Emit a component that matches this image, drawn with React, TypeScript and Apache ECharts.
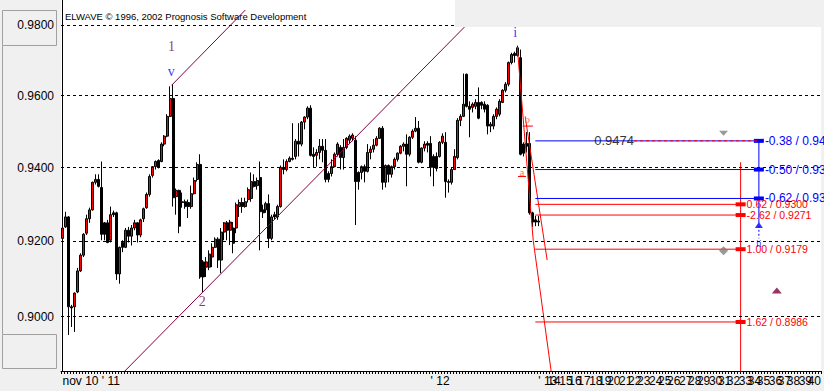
import React, { useEffect, useRef } from "react";
import * as echarts from "echarts";

// [open, close, low, high]
const candles: number[][] = [
  [0.9208, 0.9236, 0.9203, 0.9241], [0.9239, 0.9266, 0.9236, 0.9280], [0.9266, 0.9026, 0.8952, 0.9268], [0.9026, 0.9023, 0.8973, 0.9031],
  [0.9026, 0.9062, 0.8960, 0.9064], [0.9065, 0.9121, 0.9062, 0.9129], [0.9121, 0.9163, 0.9118, 0.9168], [0.9163, 0.9219, 0.9158, 0.9222],
  [0.9222, 0.9261, 0.9217, 0.9272], [0.9261, 0.9285, 0.9250, 0.9291], [0.9285, 0.9360, 0.9283, 0.9362], [0.9360, 0.9368, 0.9354, 0.9382],
  [0.9368, 0.9349, 0.9346, 0.9382], [0.9346, 0.9219, 0.9203, 0.9417], [0.9250, 0.9219, 0.9203, 0.9252], [0.9250, 0.9197, 0.9195, 0.9258],
  [0.9203, 0.9272, 0.9197, 0.9294], [0.9277, 0.9272, 0.9266, 0.9283], [0.9277, 0.9113, 0.9097, 0.9280], [0.9113, 0.9184, 0.9087, 0.9186],
  [0.9197, 0.9184, 0.9171, 0.9203], [0.9184, 0.9230, 0.9182, 0.9236], [0.9230, 0.9214, 0.9197, 0.9239], [0.9214, 0.9236, 0.9189, 0.9244],
  [0.9236, 0.9250, 0.9230, 0.9258], [0.9250, 0.9217, 0.9197, 0.9252], [0.9217, 0.9258, 0.9211, 0.9261], [0.9261, 0.9288, 0.9252, 0.9291],
  [0.9291, 0.9327, 0.9288, 0.9332], [0.9327, 0.9376, 0.9321, 0.9382], [0.9379, 0.9403, 0.9373, 0.9404], [0.9403, 0.9417, 0.9395, 0.9420],
  [0.9420, 0.9401, 0.9398, 0.9423], [0.9417, 0.9465, 0.9415, 0.9470], [0.9465, 0.9487, 0.9459, 0.9490], [0.9487, 0.9542, 0.9484, 0.9548],
  [0.9542, 0.9592, 0.9540, 0.9626], [0.9592, 0.9318, 0.9294, 0.9632], [0.9321, 0.9338, 0.9272, 0.9343], [0.9338, 0.9241, 0.9222, 0.9340],
  [0.9307, 0.9305, 0.9291, 0.9332], [0.9307, 0.9294, 0.9288, 0.9313], [0.9305, 0.9294, 0.9263, 0.9313], [0.9294, 0.9329, 0.9288, 0.9351],
  [0.9329, 0.9365, 0.9327, 0.9373], [0.9368, 0.9409, 0.9362, 0.9415], [0.9409, 0.9105, 0.9100, 0.9437], [0.9145, 0.9105, 0.9065, 0.9150],
  [0.9131, 0.9145, 0.9105, 0.9158], [0.9131, 0.9166, 0.9123, 0.9176], [0.9158, 0.9184, 0.9131, 0.9195], [0.9184, 0.9206, 0.9182, 0.9211],
  [0.9206, 0.9150, 0.9129, 0.9211], [0.9150, 0.9225, 0.9115, 0.9236], [0.9225, 0.9250, 0.9203, 0.9252], [0.9250, 0.9230, 0.9203, 0.9255],
  [0.9230, 0.9252, 0.9190, 0.9258], [0.9236, 0.9195, 0.9168, 0.9252], [0.9236, 0.9299, 0.9222, 0.9305], [0.9294, 0.9305, 0.9266, 0.9313],
  [0.9305, 0.9294, 0.9277, 0.9318], [0.9294, 0.9307, 0.9291, 0.9318], [0.9313, 0.9340, 0.9305, 0.9346], [0.9316, 0.9362, 0.9307, 0.9387],
  [0.9362, 0.9349, 0.9346, 0.9382], [0.9351, 0.9365, 0.9340, 0.9373], [0.9373, 0.9280, 0.9176, 0.9417], [0.9285, 0.9277, 0.9263, 0.9299],
  [0.9285, 0.9302, 0.9277, 0.9307], [0.9302, 0.9208, 0.9182, 0.9327], [0.9208, 0.9266, 0.9203, 0.9272], [0.9272, 0.9266, 0.9258, 0.9280],
  [0.9266, 0.9294, 0.9258, 0.9299], [0.9294, 0.9401, 0.9291, 0.9406], [0.9401, 0.9395, 0.9382, 0.9423], [0.9395, 0.9417, 0.9390, 0.9423],
  [0.9417, 0.9426, 0.9415, 0.9431], [0.9426, 0.9423, 0.9420, 0.9523], [0.9431, 0.9473, 0.9423, 0.9479], [0.9473, 0.9465, 0.9431, 0.9523],
  [0.9465, 0.9526, 0.9459, 0.9529], [0.9526, 0.9540, 0.9506, 0.9542], [0.9540, 0.9565, 0.9534, 0.9570], [0.9565, 0.9434, 0.9431, 0.9573],
  [0.9437, 0.9431, 0.9401, 0.9456], [0.9434, 0.9442, 0.9403, 0.9451], [0.9442, 0.9459, 0.9423, 0.9479], [0.9459, 0.9448, 0.9415, 0.9479],
  [0.9448, 0.9368, 0.9360, 0.9479], [0.9384, 0.9368, 0.9360, 0.9390], [0.9384, 0.9403, 0.9376, 0.9423], [0.9403, 0.9437, 0.9401, 0.9442],
  [0.9437, 0.9465, 0.9431, 0.9470], [0.9456, 0.9428, 0.9395, 0.9462], [0.9428, 0.9456, 0.9395, 0.9479], [0.9456, 0.9481, 0.9451, 0.9484],
  [0.9476, 0.9487, 0.9465, 0.9492], [0.9481, 0.9490, 0.9473, 0.9495], [0.9476, 0.9362, 0.9244, 0.9487], [0.9387, 0.9362, 0.9340, 0.9390],
  [0.9387, 0.9403, 0.9368, 0.9406], [0.9403, 0.9390, 0.9360, 0.9409], [0.9390, 0.9442, 0.9387, 0.9465], [0.9442, 0.9451, 0.9423, 0.9459],
  [0.9451, 0.9462, 0.9442, 0.9479], [0.9462, 0.9481, 0.9459, 0.9487], [0.9481, 0.9509, 0.9479, 0.9512], [0.9509, 0.9360, 0.9340, 0.9515],
  [0.9360, 0.9406, 0.9346, 0.9409], [0.9406, 0.9382, 0.9360, 0.9409], [0.9382, 0.9403, 0.9373, 0.9406], [0.9403, 0.9423, 0.9395, 0.9428],
  [0.9423, 0.9440, 0.9417, 0.9442], [0.9440, 0.9459, 0.9437, 0.9462], [0.9459, 0.9465, 0.9445, 0.9470], [0.9465, 0.9437, 0.9349, 0.9492],
  [0.9437, 0.9484, 0.9431, 0.9487], [0.9484, 0.9501, 0.9479, 0.9506], [0.9501, 0.9509, 0.9498, 0.9540], [0.9509, 0.9415, 0.9412, 0.9529],
  [0.9415, 0.9454, 0.9412, 0.9456], [0.9454, 0.9465, 0.9445, 0.9473], [0.9467, 0.9462, 0.9442, 0.9473], [0.9467, 0.9401, 0.9376, 0.9487],
  [0.9431, 0.9401, 0.9349, 0.9437], [0.9431, 0.9398, 0.9390, 0.9442], [0.9431, 0.9470, 0.9428, 0.9473], [0.9470, 0.9487, 0.9465, 0.9495],
  [0.9470, 0.9362, 0.9318, 0.9498], [0.9362, 0.9360, 0.9332, 0.9368], [0.9360, 0.9395, 0.9354, 0.9401], [0.9395, 0.9431, 0.9395, 0.9451],
  [0.9428, 0.9531, 0.9423, 0.9537], [0.9531, 0.9542, 0.9515, 0.9548], [0.9542, 0.9576, 0.9540, 0.9662], [0.9660, 0.9570, 0.9567, 0.9662],
  [0.9570, 0.9562, 0.9484, 0.9584], [0.9567, 0.9576, 0.9553, 0.9581], [0.9570, 0.9581, 0.9562, 0.9590], [0.9581, 0.9537, 0.9534, 0.9623],
  [0.9581, 0.9573, 0.9562, 0.9584], [0.9576, 0.9562, 0.9553, 0.9584], [0.9573, 0.9515, 0.9492, 0.9576], [0.9515, 0.9520, 0.9498, 0.9526],
  [0.9515, 0.9542, 0.9506, 0.9548], [0.9542, 0.9562, 0.9534, 0.9567], [0.9548, 0.9584, 0.9542, 0.9590], [0.9581, 0.9615, 0.9579, 0.9618],
  [0.9615, 0.9632, 0.9609, 0.9638], [0.9632, 0.9693, 0.9626, 0.9696], [0.9693, 0.9716, 0.9688, 0.9721], [0.9719, 0.9713, 0.9693, 0.9724],
  [0.9713, 0.9735, 0.9710, 0.9741], [0.9707, 0.9437, 0.9434, 0.9730], [0.9465, 0.9440, 0.9431, 0.9470], [0.9467, 0.9459, 0.9442, 0.9498],
  [0.9467, 0.9277, 0.9272, 0.9498], [0.9277, 0.9252, 0.9239, 0.9280], [0.9258, 0.9252, 0.9241, 0.9269], [0.9252, 0.9255, 0.9241, 0.9269],
];

// time axis (bar slots, including the projected future)
const barSlots = 254;
const dateTicks: [number, string][] = [[0, "nov 10 ' 11"], [123, "' 12"]];
const futureTickStart = 159;
const futureTickStep = 3.33;
const futureTicks = ["' 13", "14", "15", "16", "17", "18", "19", "20", "21", "22", "23", "24", "25", "26", "27", "28", "29", "30", "31", "32", "33", "34", "35", "36", "37", "38", "39", "40"];

// price axis
const priceMin = 0.88583;
const priceMax = 0.98718;
const priceLevels = [0.9, 0.92, 0.94, 0.96, 0.98];

// Elliott wave channel and projection lines: [bar, price]
const channelUpper = [[36.45, 0.9629], [61.1, 0.9843]];
const channelLower = [[20.8, 0.8858], [134.3, 0.9794]];
const projectionA = [[151.96, 0.9738], [157.29, 0.9203], [163.28, 0.8858]];
const projectionB = [[154.63, 0.954], [161.95, 0.915]];
const tickB = [[153.8, 0.9515], [157.2, 0.9515]];
const tickA = [[152.2, 0.9376], [154.9, 0.9376]];

// Fibonacci projections
const fibFromBar = 158;
const blueToBar = 232.7;
const redToBar = 226.6;
const blueLevels: [string, number][] = [["-0.38", 0.9474], ["-0.50", 0.9395], ["-0.62", 0.9316]];
const redLevels: [string, number][] = [["0.62", 0.93], ["-2.62", 0.9271], ["1.00", 0.9179], ["1.62", 0.8986]];
const targetLabel = { text: "0.9474", bar: 184.3, price: 0.9474 };
const targetDashFromBar = 191;
const redVertical = [[226.6, 0.9415], [226.6, 0.8858]];
const blueVertical = [[232.7, 0.9474], [232.7, 0.925]];
const blueVerticalDash = [[232.7, 0.9242], [232.7, 0.9208]];

// wave labels: degree decides the colour
const waveLabels = [
  { text: "1", bar: 36.45, price: 0.9738, degree: "primary" },
  { text: "v", bar: 36.3, price: 0.9668, degree: "minor" },
  { text: "2", bar: 46.7, price: 0.904, degree: "primary" },
  { text: "i", bar: 151.3, price: 0.9778, degree: "minor" },
  { text: "b", bar: 155.3, price: 0.9534, degree: "minute" },
  { text: "a", bar: 153.5, price: 0.9388, degree: "minute" },
  { text: "ii", bar: 232.7, price: 0.9195, degree: "minorSmall" },
];

const markers = [
  { kind: "down", bar: 220.9, price: 0.9495 },
  { kind: "diamond", bar: 220.9, price: 0.9175 },
  { kind: "up", bar: 238.7, price: 0.9069 },
  { kind: "arrow", bar: 232.7, price: 0.9244 },
];

const PURPLE = "#800040";
const BLUE = "#0000ff";
const RED = "#ff0000";
const SANS = "Liberation Sans, Arial, sans-serif";
const SERIF = "Liberation Serif, Times New Roman, serif";

function buildCategories(): string[] {
  const cats: string[] = new Array(barSlots).fill("");
  dateTicks.forEach(([i, t]) => (cats[i] = t));
  futureTicks.forEach((t, n) => {
    const i = Math.round(futureTickStart + n * futureTickStep);
    if (i < barSlots) cats[i] = t;
  });
  return cats;
}

function line(data: any[], color: string, type: any = "solid", z = 4) {
  return {
    type: "line",
    xAxisIndex: 1,
    yAxisIndex: 0,
    data,
    symbol: "none",
    silent: true,
    z,
    lineStyle: { color, width: 1, type },
  };
}

function levelSeries(levels: [string, number][], toBar: number, color: string, fontSize: number) {
  return levels.map(([ratio, price]) => ({
    type: "line",
    xAxisIndex: 1,
    yAxisIndex: 0,
    silent: true,
    z: 5,
    symbol: "none",
    lineStyle: { color, width: 1 },
    data: [
      [fibFromBar, price],
      {
        value: [toBar, price],
        symbol: "rect",
        symbolSize: [10, 4],
        itemStyle: { color },
        label: {
          show: true,
          position: "right",
          distance: 1,
          formatter: `${ratio} / ${price.toFixed(4)}`,
          color,
          fontSize,
          fontFamily: SANS,
        },
      },
    ],
  }));
}

const degreeStyle: Record<string, any> = {
  primary: { color: PURPLE, fontSize: 14, fontFamily: SERIF },
  minor: { color: BLUE, fontSize: 14, fontFamily: SERIF },
  minute: { color: "#ff5020", fontSize: 11, fontFamily: SERIF },
  minorSmall: { color: BLUE, fontSize: 10, fontFamily: SERIF },
};

const markerStyle: Record<string, any> = {
  down: { symbol: "triangle", symbolRotate: 180, symbolSize: [9, 5], color: "#808080" },
  diamond: { symbol: "diamond", symbolSize: [9, 9], color: "#808080" },
  up: { symbol: "triangle", symbolSize: [10, 6], color: PURPLE },
  arrow: { symbol: "triangle", symbolSize: [8, 6], color: BLUE },
};

export default function App() {
  const ref = useRef<HTMLDivElement>(null);
  useEffect(() => {
    if (!ref.current) return;
    const chart = echarts.init(ref.current, undefined, { renderer: "svg" });
    const option: any = {
      animation: false,
      backgroundColor: "#f0f0f0",
      grid: { left: 61, right: 0, top: 0, height: 371, show: true, backgroundColor: "#ffffff", borderWidth: 0 },
      xAxis: [
        {
          type: "category",
          data: buildCategories(),
          boundaryGap: true,
          axisLine: { show: true, lineStyle: { color: "#000", width: 1 } },
          axisTick: { show: true, interval: 0, length: 3, lineStyle: { color: "#000" } },
          axisLabel: { interval: 0, align: "left", color: "#000", fontSize: 12, fontFamily: SANS, margin: 4 },
          splitLine: { show: false },
        },
        { type: "value", min: -0.5, max: barSlots - 0.5, show: false },
      ],
      yAxis: [
        {
          type: "log",
          logBase: 10,
          min: priceMin,
          max: priceMax,
          axisLine: { show: true, lineStyle: { color: "#000", width: 1 } },
          axisTick: { show: false },
          axisLabel: { show: false },
          splitLine: { show: false },
        },
      ],
      graphic: [
        { type: "rect", shape: { x: 2.5, y: 10.5, width: 54, height: 35 }, style: { fill: "none", stroke: "#a0a0a0", lineWidth: 1 } },
        { type: "rect", shape: { x: 2.5, y: 334.5, width: 54, height: 34 }, style: { fill: "none", stroke: "#a0a0a0", lineWidth: 1 } },
        { type: "line", shape: { x1: 2.5, y1: 46, x2: 2.5, y2: 334 }, style: { stroke: "#a0a0a0", lineWidth: 1 } },
        { type: "rect", z: 100, shape: { x: 455, y: 0, width: 369, height: 27 }, style: { fill: "#f0f0f0" } },
        {
          type: "text",
          z: 100,
          x: 65,
          y: 11,
          style: { text: "ELWAVE © 1996, 2002 Prognosis Software Development", fill: "#000", fontSize: 9.5, fontFamily: SANS },
        },
      ],
      series: [
        {
          type: "candlestick",
          xAxisIndex: 0,
          yAxisIndex: 0,
          data: candles,
          barWidth: 2.5,
          z: 3,
          itemStyle: { color: "#ff0000", color0: "#000000", borderColor: "#000000", borderColor0: "#000000", borderWidth: 1 },
          markLine: {
            silent: true,
            symbol: ["none", "none"],
            lineStyle: { color: "#000", type: [3, 3], width: 1 },
            label: {
              show: true,
              position: "start",
              distance: 7,
              formatter: (p: any) => Number(p.value).toFixed(4),
              color: "#000",
              fontSize: 12,
              fontFamily: SANS,
            },
            data: priceLevels.map((v) => ({ yAxis: v })),
          },
        },
        line(channelUpper, PURPLE),
        line(channelLower, PURPLE),
        line(projectionA, RED),
        line(projectionB, RED),
        line(tickB, RED),
        line(tickA, RED),
        ...levelSeries(redLevels, redToBar, RED, 10.5),
        ...levelSeries(blueLevels, blueToBar, BLUE, 12),
        line([[targetDashFromBar, blueLevels[0][1]], [blueToBar, blueLevels[0][1]]], RED, [3, 3], 6),
        line(redVertical, RED),
        line(blueVertical, BLUE),
        line(blueVerticalDash, BLUE, [2, 2]),
        {
          type: "scatter",
          xAxisIndex: 1,
          yAxisIndex: 0,
          silent: true,
          z: 8,
          data: markers.map((m) => {
            const s = markerStyle[m.kind];
            return {
              value: [m.bar, m.price],
              symbol: s.symbol,
              symbolSize: s.symbolSize,
              symbolRotate: s.symbolRotate || 0,
              itemStyle: { color: s.color },
            };
          }),
        },
        {
          type: "scatter",
          xAxisIndex: 1,
          yAxisIndex: 0,
          silent: true,
          z: 9,
          symbolSize: 1,
          itemStyle: { color: "rgba(0,0,0,0)" },
          data: [
            ...waveLabels.map((w) => ({
              value: [w.bar, w.price],
              label: { show: true, position: "inside", formatter: w.text, ...degreeStyle[w.degree] },
            })),
            {
              value: [targetLabel.bar, targetLabel.price],
              label: { show: true, position: "inside", formatter: targetLabel.text, color: "#000", fontSize: 13, fontFamily: SANS },
            },
          ],
        },
      ],
    };
    chart.setOption(option);
    return () => chart.dispose();
  }, []);
  return (
    <div
      ref={ref}
      style={{ position: "fixed", left: 0, top: 0, width: 824, height: 391, background: "#f0f0f0" }}
    />
  );
}
